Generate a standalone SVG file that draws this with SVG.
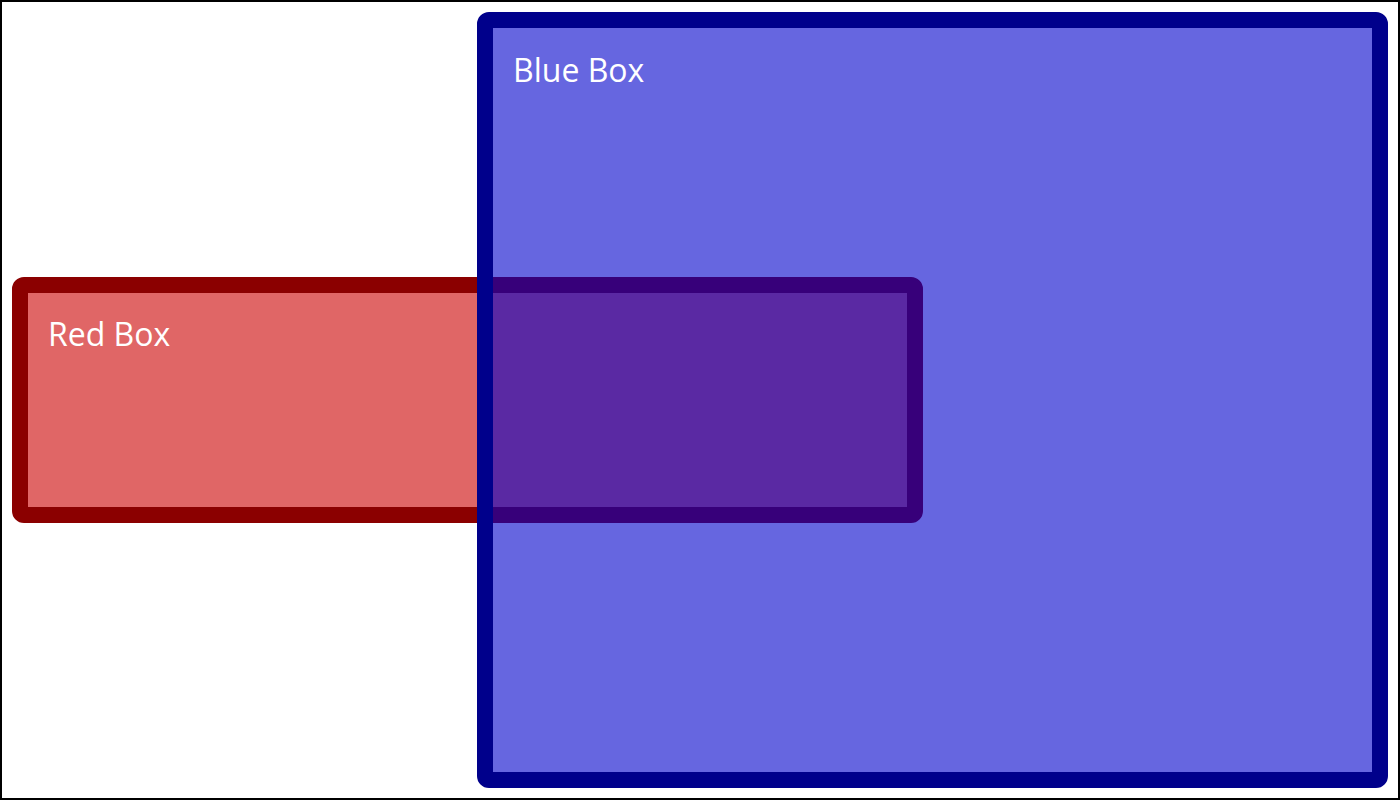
<svg xmlns="http://www.w3.org/2000/svg" width="1400" height="800" viewBox="0 0 1400 800">
<style>
.lbl{font-family:"Open Sans","Noto Sans","Liberation Sans",sans-serif;font-size:32px;fill:#ffffff}
.box{stroke-width:16}
</style>
<rect x="1" y="1" width="1398" height="798" fill="#ffffff" stroke="#000000" stroke-width="2"/>
<g id="red-box">
<rect class="box" x="20" y="285" width="895" height="230" rx="4" fill="#cc0000" fill-opacity="0.6" stroke="#8b0000"/>
<text class="lbl" x="48" y="346">Red Box</text>
</g>
<g id="blue-box">
<rect class="box" x="485" y="20" width="895" height="760" rx="4" fill="#0000cc" fill-opacity="0.6" stroke="#00008b"/>
<text class="lbl" x="513" y="82">Blue Box</text>
</g>
<g id="connectors"/>
</svg>
